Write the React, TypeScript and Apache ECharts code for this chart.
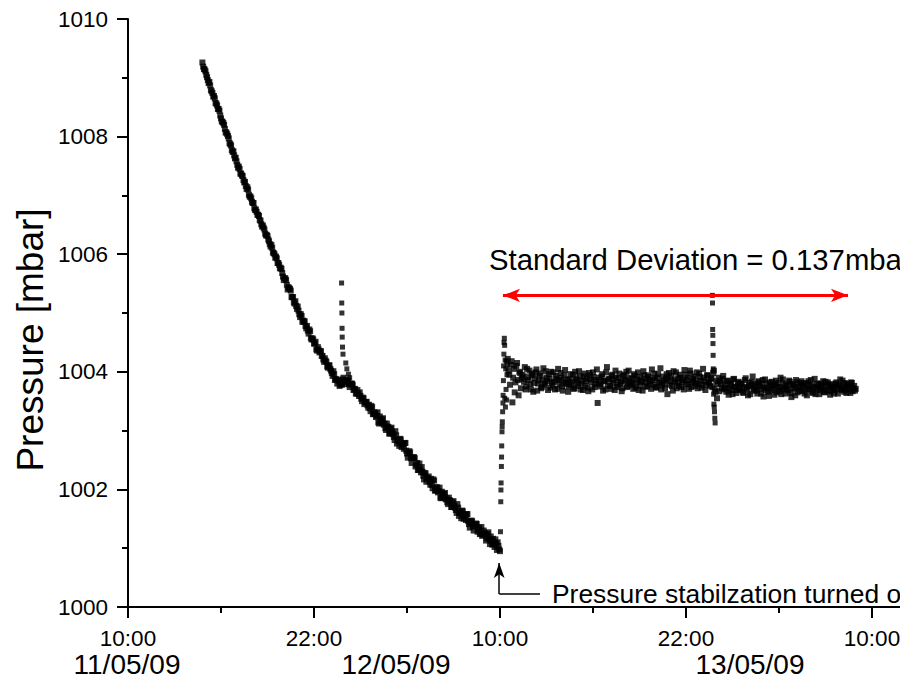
import React, { useEffect, useRef } from "react";
import * as echarts from "echarts";

// x values are hours after 10:00 on 11/05/09
const xTickLabels = ["10:00", "22:00", "10:00", "22:00", "10:00"];
const dateLabels = ["11/05/09", "12/05/09", "13/05/09"];
const sampleStep = 0.1; // hours between logged readings of one set

// two interleaved reading sets (offset by half a step) during the pressure decay
const decayStart = 4.8;
const decayValues = [
  1009.26, 1009.15,
  1009.11, 1009.01, 1008.91, 1008.87, 1008.77, 1008.68, 1008.65, 1008.56, 1008.47, 1008.44,
  1008.31, 1008.25, 1008.2, 1008.07, 1008.04, 1007.97, 1007.87, 1007.77, 1007.75, 1007.63,
  1007.58, 1007.47, 1007.45, 1007.37, 1007.33, 1007.22, 1007.16, 1007.14, 1007.01, 1006.98,
  1006.89, 1006.87, 1006.75, 1006.72, 1006.67, 1006.58, 1006.51, 1006.49, 1006.42, 1006.32,
  1006.31, 1006.22, 1006.13, 1006.11, 1006.02, 1005.94, 1005.93, 1005.85, 1005.76, 1005.75,
  1005.62, 1005.59, 1005.56, 1005.4, 1005.42, 1005.38, 1005.27, 1005.18, 1005.2, 1005.07,
  1005.04, 1004.93, 1004.95, 1004.87, 1004.86, 1004.74, 1004.7, 1004.72, 1004.57, 1004.57,
  1004.48, 1004.51, 1004.36, 1004.38, 1004.35, 1004.27, 1004.21, 1004.23, 1004.17, 1004.07,
  1004.11, 1004.02, 1003.93, 1003.96, 1003.88, 1003.8, 1003.84, 1003.78, 1003.78, 1003.9,
  1003.83, 1003.84, 1003.85, 1003.74, 1003.79, 1003.78, 1003.7, 1003.63, 1003.69, 1003.59,
  1003.59, 1003.5, 1003.55, 1003.48, 1003.49, 1003.39, 1003.38, 1003.42, 1003.28, 1003.31,
  1003.23, 1003.31, 1003.12, 1003.19, 1003.19, 1003.1, 1003.04, 1003.12, 1003.06, 1002.95,
  1003.05, 1002.94, 1002.84, 1002.92, 1002.83, 1002.74, 1002.85, 1002.77, 1002.69, 1002.79,
  1002.61, 1002.62, 1002.63, 1002.45, 1002.54, 1002.53, 1002.42, 1002.33, 1002.44, 1002.29,
  1002.3, 1002.17, 1002.27, 1002.19, 1002.22, 1002.08, 1002.08, 1002.17, 1001.98, 1002.04,
  1001.95, 1002.03, 1001.85, 1001.92, 1001.92, 1001.83, 1001.78, 1001.86, 1001.8, 1001.7,
  1001.8, 1001.69, 1001.6, 1001.69, 1001.6, 1001.51, 1001.63, 1001.55, 1001.48, 1001.58,
  1001.41, 1001.44, 1001.46, 1001.3, 1001.4, 1001.41, 1001.31, 1001.24, 1001.36, 1001.23,
  1001.26, 1001.13, 1001.24, 1001.16, 1001.2, 1001.06, 1001.07, 1001.15, 1000.97, 1001.04,
  1000.95,
];
const decayStartB = 4.85;
const decayValuesB = [
  1009.19, 1009.14, 1009.05, 1008.96, 1008.93, 1008.79, 1008.74, 1008.69, 1008.57, 1008.53,
  1008.47, 1008.36, 1008.26, 1008.23, 1008.13, 1008.07, 1008.01, 1007.89, 1007.85, 1007.74,
  1007.68, 1007.64, 1007.52, 1007.49, 1007.37, 1007.34, 1007.26, 1007.23, 1007.11, 1007.1,
  1006.98, 1006.95, 1006.87, 1006.78, 1006.76, 1006.67, 1006.65, 1006.57, 1006.47, 1006.45,
  1006.35, 1006.33, 1006.25, 1006.17, 1006.16, 1006.03, 1006.0, 1005.96, 1005.85, 1005.82,
  1005.77, 1005.68, 1005.56, 1005.59, 1005.48, 1005.44, 1005.41, 1005.27, 1005.27, 1005.16,
  1005.12, 1005.11, 1004.98, 1004.98, 1004.85, 1004.85, 1004.78, 1004.78, 1004.65, 1004.69,
  1004.55, 1004.55, 1004.48, 1004.38, 1004.42, 1004.33, 1004.35, 1004.27, 1004.17, 1004.19,
  1004.09, 1004.11, 1004.05, 1003.98, 1004.01, 1003.86, 1003.87, 1003.86, 1003.76, 1003.81,
  1003.87, 1003.84, 1003.79, 1003.86, 1003.79, 1003.8, 1003.8, 1003.69, 1003.71, 1003.63,
  1003.63, 1003.65, 1003.54, 1003.56, 1003.45, 1003.48, 1003.43, 1003.44, 1003.33, 1003.4,
  1003.28, 1003.3, 1003.25, 1003.14, 1003.24, 1003.13, 1003.21, 1003.12, 1003.01, 1003.07,
  1002.95, 1003.03, 1002.97, 1002.89, 1002.99, 1002.78, 1002.83, 1002.86, 1002.72, 1002.77,
  1002.79, 1002.66, 1002.54, 1002.65, 1002.53, 1002.54, 1002.55, 1002.39, 1002.45, 1002.33,
  1002.34, 1002.38, 1002.23, 1002.28, 1002.13, 1002.19, 1002.13, 1002.18, 1002.02, 1002.15,
  1001.98, 1002.03, 1001.97, 1001.86, 1001.96, 1001.86, 1001.94, 1001.85, 1001.75, 1001.82,
  1001.7, 1001.78, 1001.72, 1001.65, 1001.75, 1001.55, 1001.6, 1001.64, 1001.5, 1001.56,
  1001.58, 1001.46, 1001.35, 1001.47, 1001.37, 1001.4, 1001.42, 1001.28, 1001.35, 1001.25,
  1001.21, 1001.3, 1001.24, 1001.17, 1001.27, 1001.07, 1001.12, 1001.16, 1001.02, 1001.08,
  1001.1, 1000.98,
];

const spike1Times = [13.78, 13.79, 13.8, 13.81, 13.82, 13.84, 13.87, 14.05, 14.12, 14.22, 14.3];
const spike1Values = [1005.51, 1005.17, 1005.0, 1004.74, 1004.59, 1004.42, 1004.3, 1004.15, 1004.05, 1003.96, 1003.9];

const riseTimes = [
  24.03, 24.05, 24.06, 24.07, 24.09, 24.1, 24.11, 24.13, 24.14, 24.15, 24.17, 24.19, 24.2, 24.22,
  24.23, 24.25, 24.26, 24.28, 24.3, 24.31, 24.33, 24.35, 24.37, 24.39, 24.41, 24.43, 24.45, 24.47,
];
const riseValues = [
  1001.28, 1001.79, 1001.99, 1002.11, 1002.39, 1002.55, 1002.74, 1002.98, 1003.07, 1003.15, 1003.32,
  1003.47, 1003.6, 1003.85, 1004.1, 1004.3, 1004.5, 1004.57, 1004.45, 1003.55, 1004.2, 1003.4,
  1004.05, 1003.7, 1004.18, 1003.52, 1003.95, 1004.12,
];

// two interleaved reading sets in the stabilised part (offset by half a step)
const flatStart = 24.5;
const flatValues = [
  1004.22, 1003.95, 1004.12, 1003.48, 1004.05, 1003.82, 1004.15, 1003.6, 1003.98, 1003.88,
  1003.92, 1004.08, 1003.75, 1003.86, 1004.02, 1003.7, 1003.94, 1003.81, 1003.99, 1003.68,
  1003.85, 1003.97, 1003.74, 1004.06, 1003.8, 1003.9, 1003.69, 1003.88, 1004.0, 1003.77,
  1003.83, 1003.93, 1003.71, 1003.86, 1003.98, 1003.75, 1003.84, 1004.03, 1003.79, 1003.66,
  1003.87, 1003.78, 1003.95, 1003.72, 1003.89, 1003.81, 1004.01, 1003.7, 1003.85, 1003.92,
  1003.76, 1003.88, 1003.67, 1003.94, 1003.82, 1003.99, 1003.74, 1003.86, 1003.47, 1003.9,
  1003.79, 1003.96, 1003.84, 1003.7, 1004.08, 1003.87, 1003.76, 1003.93, 1003.81, 1003.69,
  1003.9, 1003.78, 1003.97, 1003.83, 1003.72, 1003.95, 1003.86, 1003.74, 1004.02, 1003.8,
  1003.88, 1003.71, 1003.93, 1003.82, 1003.99, 1003.77, 1003.85, 1003.68, 1003.94, 1003.83,
  1003.75, 1003.91, 1003.84, 1004.04, 1003.78, 1003.89, 1003.73, 1003.96, 1003.81, 1003.7,
  1003.92, 1003.8, 1003.87, 1003.62, 1003.98, 1003.84, 1003.76, 1004.01, 1003.83, 1003.72,
  1003.89, 1003.95, 1003.74, 1003.86, 1004.03, 1003.79, 1003.9, 1003.71, 1003.97, 1003.82,
  1003.85, 1003.76, 1003.99, 1003.8, 1003.91, 1003.73, 1004.05, 1003.84, 1003.78, 1003.94,
  1003.81, 1003.88, 1003.74, 1004.02, 1003.66, 1003.55, 1003.9, 1003.85, 1003.72, 1003.93,
  1003.78, 1003.66, 1003.85, 1003.71, 1003.8, 1003.62, 1003.88, 1003.74, 1003.69, 1003.83,
  1003.7, 1003.79, 1003.64, 1003.86, 1003.73, 1003.6, 1003.81, 1003.76, 1003.92, 1003.68,
  1003.75, 1003.63, 1003.84, 1003.71, 1003.79, 1003.58, 1003.87, 1003.72, 1003.66, 1003.82,
  1003.69, 1003.77, 1003.61, 1003.85, 1003.74, 1003.67, 1003.9, 1003.7, 1003.8, 1003.63,
  1003.76, 1003.68, 1003.83, 1003.57, 1003.78, 1003.71, 1003.86, 1003.65, 1003.74, 1003.81,
  1003.67, 1003.79, 1003.72, 1003.6, 1003.84, 1003.7, 1003.77, 1003.64, 1003.88, 1003.73,
  1003.71, 1003.62, 1003.8, 1003.75, 1003.66, 1003.83, 1003.69, 1003.78, 1003.61, 1003.76,
  1003.74, 1003.68, 1003.82, 1003.63, 1003.77, 1003.71, 1003.85, 1003.66, 1003.73, 1003.79,
  1003.7, 1003.64, 1003.81, 1003.72, 1003.68,
];
const flatStartB = 24.55;
const flatValuesB = [
  1004.02, 1003.78, 1004.18, 1003.9, 1003.65, 1004.1, 1003.86, 1004.0, 1003.72, 1003.95,
  1003.83, 1003.7, 1004.05, 1003.91, 1003.79, 1003.97, 1003.66, 1003.89, 1004.04, 1003.8,
  1003.93, 1003.72, 1003.87, 1003.78, 1004.01, 1003.84, 1003.96, 1003.73, 1003.82, 1003.99,
  1003.7, 1003.88, 1004.05, 1003.79, 1003.9, 1003.68, 1003.94, 1003.81, 1003.87, 1003.75,
  1003.96, 1003.83, 1003.71, 1004.0, 1003.86, 1003.76, 1003.92, 1003.8, 1003.69, 1003.97,
  1003.84, 1003.73, 1003.98, 1003.87, 1003.7, 1003.91, 1003.79, 1004.04, 1003.82, 1003.75,
  1003.92, 1003.68, 1003.85, 1003.99, 1003.77, 1003.88, 1003.71, 1003.95, 1003.86, 1004.02,
  1003.74, 1003.89, 1003.8, 1003.67, 1003.93, 1003.84, 1004.0, 1003.76, 1003.9, 1003.82,
  1003.78, 1003.96, 1003.73, 1003.87, 1003.69, 1003.91, 1003.83, 1004.01, 1003.75, 1003.88,
  1003.94, 1003.8, 1003.71, 1003.86, 1003.97, 1003.74, 1003.9, 1003.82, 1004.06, 1003.77,
  1003.85, 1003.72, 1003.96, 1003.89, 1003.78, 1003.93, 1003.68, 1003.87, 1003.99, 1003.81,
  1003.76, 1003.9, 1003.83, 1003.7, 1003.95, 1003.86, 1003.79, 1004.02, 1003.74, 1003.88,
  1003.92, 1003.81, 1003.72, 1003.97, 1003.85, 1003.77, 1003.9, 1003.69, 1003.94, 1003.83,
  1003.76, 1003.89, 1003.98, 1003.71, 1003.84, 1003.8, 1003.67, 1003.79, 1003.88, 1003.7,
  1003.73, 1003.84, 1003.61, 1003.78, 1003.69, 1003.87, 1003.75, 1003.64, 1003.81, 1003.72,
  1003.8, 1003.66, 1003.74, 1003.89, 1003.7, 1003.77, 1003.62, 1003.83, 1003.71, 1003.79,
  1003.68, 1003.82, 1003.75, 1003.63, 1003.86, 1003.73, 1003.69, 1003.8, 1003.59, 1003.76,
  1003.83, 1003.71, 1003.78, 1003.65, 1003.81, 1003.74, 1003.62, 1003.87, 1003.72, 1003.77,
  1003.7, 1003.85, 1003.64, 1003.79, 1003.73, 1003.6, 1003.82, 1003.75, 1003.68, 1003.84,
  1003.76, 1003.63, 1003.81, 1003.7, 1003.77, 1003.86, 1003.66, 1003.74, 1003.62, 1003.8,
  1003.78, 1003.69, 1003.73, 1003.84, 1003.65, 1003.76, 1003.82, 1003.67, 1003.79, 1003.71,
  1003.63, 1003.8, 1003.72, 1003.77, 1003.87, 1003.69, 1003.75, 1003.81, 1003.64, 1003.78,
  1003.74, 1003.82, 1003.67, 1003.76, 1003.71,
];

const spike2Times = [37.7, 37.71, 37.72, 37.73, 37.74, 37.75, 37.76, 37.78, 37.8, 37.82, 37.84, 37.86, 37.88];
const spike2Values = [1005.3, 1005.17, 1004.72, 1004.62, 1004.48, 1004.28, 1004.05, 1003.62, 1003.45, 1003.4, 1003.32, 1003.21, 1003.13];

// annotation anchors (hours, mbar)
const stdArrow = { from: [24.19, 1005.3], to: [46.45, 1005.3] };
const noteArrow = { corner: [23.95, 1000.22], tip: [23.95, 1000.75], end: [26.58, 1000.22] };
const stdDevText = "Standard Deviation = 0.137mbar";
const noteText = "Pressure stabilzation turned off";
const yTitle = "Pressure [mbar]";

const FONT = "'Liberation Sans', Arial, Helvetica, sans-serif";

function addSet(pts: number[][], start: number, values: number[]) {
  values.forEach((v, i) => pts.push([+(start + i * sampleStep).toFixed(2), v]));
}

function bandPoints(): number[][] {
  const pts: number[][] = [];
  addSet(pts, decayStart, decayValues);
  addSet(pts, decayStartB, decayValuesB);
  addSet(pts, flatStart, flatValues);
  addSet(pts, flatStartB, flatValuesB);
  return pts;
}

function sparsePoints(): number[][] {
  const pts: number[][] = [];
  spike1Times.forEach((t, i) => pts.push([t, spike1Values[i]]));
  riseTimes.forEach((t, i) => pts.push([t, riseValues[i]]));
  spike2Times.forEach((t, i) => pts.push([t, spike2Values[i]]));
  return pts;
}

export default function App() {
  const ref = useRef<HTMLDivElement>(null);
  useEffect(() => {
    if (!ref.current) return;
    const chart = echarts.init(ref.current, undefined, { renderer: "svg" });
    const axisColor = "#000";
    chart.setOption({
      animation: false,
      backgroundColor: "#fff",
      grid: { left: 128, top: 19, width: 806, height: 588 },
      xAxis: {
        type: "value",
        min: 0,
        max: 52,
        interval: 12,
        axisLine: { show: true, onZero: false, lineStyle: { color: axisColor, width: 2 } },
        axisTick: { show: true, length: 11, lineStyle: { color: axisColor, width: 2 } },
        minorTick: { show: true, splitNumber: 2, length: 6, lineStyle: { color: axisColor, width: 2 } },
        splitLine: { show: false },
        axisLabel: {
          margin: 20,
          color: "#000",
          fontSize: 22.5,
          fontFamily: FONT,
          formatter: (v: number) => {
            const k = Math.round(v / 12);
            return Math.abs(v - k * 12) < 1e-6 && xTickLabels[k] ? xTickLabels[k] : "";
          },
        },
      },
      yAxis: {
        type: "value",
        min: 1000,
        max: 1010,
        interval: 2,
        axisLine: { show: true, onZero: false, lineStyle: { color: axisColor, width: 2 } },
        axisTick: { show: true, length: 11, lineStyle: { color: axisColor, width: 2 } },
        minorTick: { show: true, splitNumber: 2, length: 6, lineStyle: { color: axisColor, width: 2 } },
        splitLine: { show: false },
        axisLabel: {
          margin: 20,
          color: "#000",
          fontSize: 22.5,
          fontFamily: FONT,
          formatter: (v: number) => String(v),
        },
      },
      series: [
        {
          type: "scatter",
          symbol: "rect",
          symbolSize: 6,
          silent: true,
          itemStyle: { color: "#000" },
          data: bandPoints(),
        },
        {
          type: "scatter",
          symbol: "rect",
          symbolSize: 5,
          silent: true,
          itemStyle: { color: "#000" },
          data: sparsePoints(),
          markLine: {
            silent: true,
            animation: false,
            label: { show: false },
            emphasis: { disabled: true },
            symbol: ["none", "none"],
            data: [
              [
                { coord: stdArrow.from, symbol: "arrow", symbolSize: [10, 17], lineStyle: { color: "#ff0000", width: 3, type: "solid" } },
                { coord: stdArrow.to, symbol: "arrow", symbolSize: [10, 17] },
              ],
              [
                { coord: noteArrow.corner, symbol: "none", lineStyle: { color: "#000", width: 1.5, type: "solid" } },
                { coord: noteArrow.tip, symbol: "arrow", symbolSize: [8, 15] },
              ],
              [
                { coord: noteArrow.corner, symbol: "none", lineStyle: { color: "#000", width: 1.5, type: "solid" } },
                { coord: noteArrow.end, symbol: "none" },
              ],
            ],
          },
        },
      ],
      graphic: [
        {
          type: "text",
          x: 30,
          y: 340,
          rotation: Math.PI / 2,
          style: { text: yTitle, fontSize: 37, fontFamily: FONT, fill: "#000", align: "center", verticalAlign: "middle" },
        },
        {
          type: "text",
          x: 489,
          y: 259,
          style: { text: stdDevText, fontSize: 29.3, fontFamily: FONT, fill: "#000", align: "left", verticalAlign: "middle" },
        },
        {
          type: "text",
          x: 552,
          y: 594,
          style: { text: noteText, fontSize: 26.4, fontFamily: FONT, fill: "#000", align: "left", verticalAlign: "middle" },
        },
        ...dateLabels.map((d, i) => ({
          type: "text",
          x: [127, 396, 750][i],
          y: 664,
          style: { text: d, fontSize: 28, fontFamily: FONT, fill: "#000", align: "center", verticalAlign: "middle" },
        })),
      ],
    });
    return () => chart.dispose();
  }, []);
  return (
    <div
      ref={ref}
      style={{ position: "fixed", left: 0, top: 0, width: 940, height: 679, background: "#fff" }}
    />
  );
}
